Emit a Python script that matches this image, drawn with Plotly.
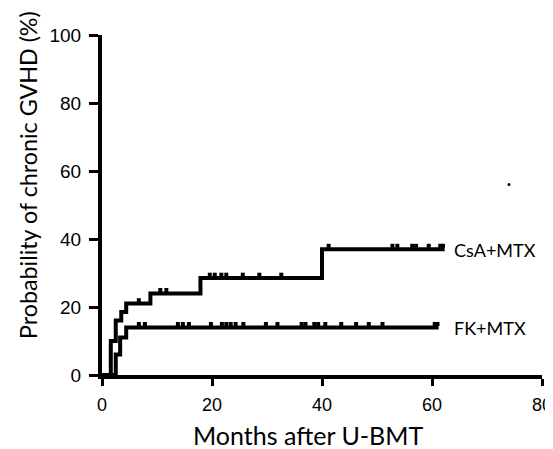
import numpy as np
import plotly.graph_objects as go

# Step data (months, cumulative incidence %)
csa_t = [0, 1.6, 2.5, 3.5, 4.4, 8.8, 17.9, 40.0, 62.3]
csa_v = [0, 10, 16, 18.5, 21, 24, 28.5, 37, 37]
fk_t = [0, 2.5, 3.3, 4.4, 61.2]
fk_v = [0, 6, 11, 14, 14]

# Censoring times
csa_cens = [6.7, 10.6, 11.7, 19.6, 20.5, 21.7, 22.6, 25.6, 28.6, 32.6, 41.2,
            52.8, 53.7, 56.4, 57.1, 59.4, 61.5, 62.0]
fk_cens = [6.7, 7.8, 13.8, 14.7, 15.8, 19.8, 21.8, 22.6, 23.4, 24.3, 25.7,
           29.8, 31.9, 36.3, 37.0, 38.6, 39.3, 40.6, 43.5, 46.2, 48.5, 51.0,
           60.5, 61.0]

labels = ["CsA+MTX", "FK+MTX"]
x_ticks = [0, 20, 40, 60, 80]
y_ticks = [0, 20, 40, 60, 80, 100]


def step_at(ts, vs, x):
    idx = np.searchsorted(np.array(ts), np.array(x), side="right") - 1
    return np.array(vs)[idx]


fig = go.Figure()
for t, v, c in [(csa_t, csa_v, csa_cens), (fk_t, fk_v, fk_cens)]:
    fig.add_trace(go.Scatter(x=t, y=v, mode="lines", line_shape="hv",
                             line=dict(color="black", width=4),
                             hoverinfo="skip", showlegend=False, cliponaxis=False))
    fig.add_trace(go.Scatter(x=c, y=step_at(t, v, c) + 1.0, mode="markers",
                             marker=dict(symbol="square", size=4, color="black"),
                             hoverinfo="skip", showlegend=False))

# stray speck present in the scanned figure
fig.add_trace(go.Scatter(x=[74.0], y=[56], mode="markers",
                         marker=dict(symbol="circle", size=3, color="black"),
                         hoverinfo="skip", showlegend=False))

lab_font = dict(family="Lato, Open Sans, sans-serif", size=18, color="black")
for lab, yv in zip(labels, [csa_v[-1], fk_v[-1]]):
    fig.add_annotation(x=63.7, y=yv, text=lab, showarrow=False, yshift=-1,
                       xanchor="left", yanchor="middle", font=lab_font)

tick_font = dict(family="Liberation Sans Narrow, Liberation Sans, Arial",
                 size=18, color="black")
title_font = dict(family="Lato, Open Sans, sans-serif", size=25, color="black")

fig.add_annotation(xref="paper", yref="paper", x=0.203, y=0, yshift=-60,
                   text="Months after U-BMT", showarrow=False,
                   xanchor="left", yanchor="middle", font=title_font)
fig.add_annotation(xref="paper", yref="paper", x=0, y=0.588, xshift=-74,
                   text="Probability of chronic GVHD (%)", showarrow=False,
                   textangle=-90, xanchor="center", yanchor="middle",
                   font=dict(family="Lato, Open Sans, sans-serif", size=23.3, color="black"))

fig.update_xaxes(range=[0, 80], tickvals=x_ticks, ticktext=[str(v) for v in x_ticks],
                 showline=True, linecolor="black", linewidth=4, ticks="outside",
                 ticklen=7, tickwidth=3, tickcolor="black", showgrid=False, zeroline=False,
                 tickfont=tick_font, automargin=False, ticklabeloverflow="allow",
                 ticklabelstandoff=3)
fig.update_yaxes(range=[0, 100], tickvals=y_ticks, ticktext=[str(v) for v in y_ticks],
                 showline=True, linecolor="black", linewidth=4, ticks="outside",
                 ticklen=9, tickwidth=3, tickcolor="black", showgrid=False, zeroline=False,
                 tickfont=dict(tick_font, size=19), automargin=False,
                 ticklabeloverflow="allow", ticklabelstandoff=4)

# page body has an 8px margin: figure sized to fit the 553x449 window
fig.update_layout(width=545, height=441, plot_bgcolor="white", paper_bgcolor="white",
                  margin=dict(l=94, r=11, t=27, b=74))

fig.write_html("out.html")
